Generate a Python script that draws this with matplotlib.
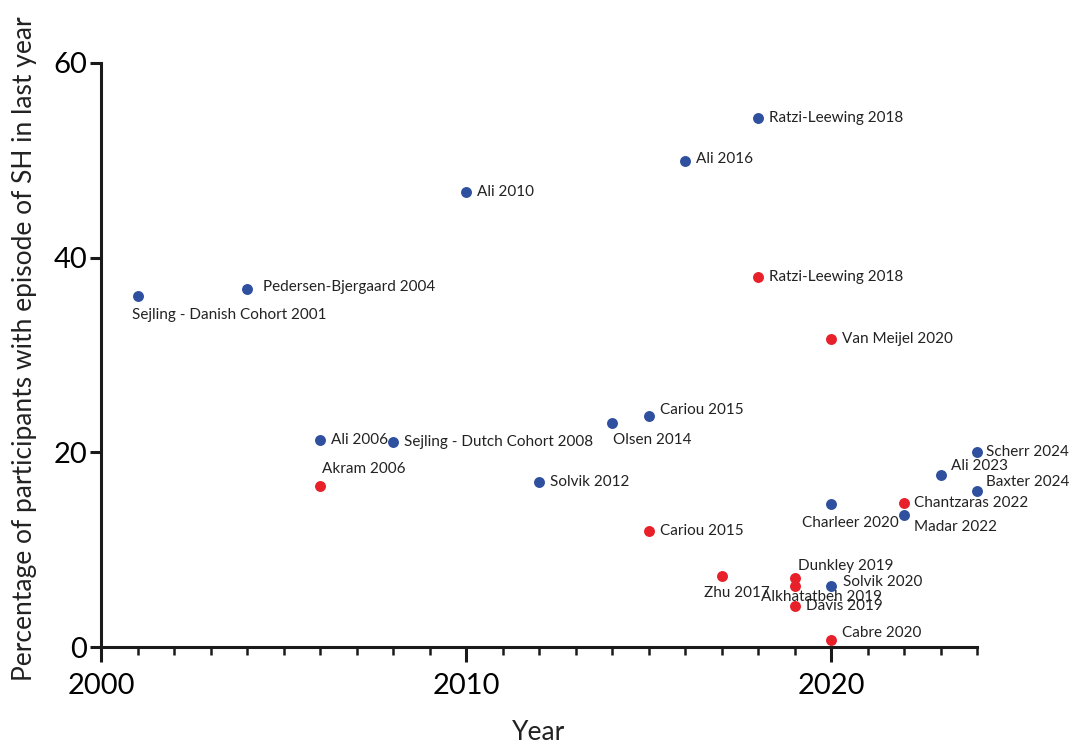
import matplotlib.pyplot as plt
from matplotlib.ticker import MultipleLocator

plt.rcParams['font.family'] = ['Lato', 'DejaVu Sans']

# Studies reporting severe hypoglycaemia (SH) in the last year
blue_names = ['Sejling - Danish Cohort 2001', 'Pedersen-Bjergaard 2004', 'Ali 2006',
              'Sejling - Dutch Cohort 2008', 'Ali 2010', 'Solvik 2012', 'Olsen 2014',
              'Cariou 2015', 'Ali 2016', 'Ratzi-Leewing 2018', 'Charleer 2020',
              'Solvik 2020', 'Madar 2022', 'Ali 2023', 'Scherr 2024', 'Baxter 2024']
blue_years = [2001, 2004, 2006, 2008, 2010, 2012, 2014, 2015, 2016, 2018, 2020,
              2020, 2022, 2023, 2024, 2024]
blue_values = [36.1, 36.8, 21.3, 21.1, 46.7, 17.0, 23.0, 23.7, 49.9, 54.3, 14.7,
               6.3, 13.6, 17.7, 20.0, 16.0]

red_names = ['Akram 2006', 'Cariou 2015', 'Ratzi-Leewing 2018', 'Van Meijel 2020',
             'Zhu 2017', 'Dunkley 2019', 'Alkhatatbeh 2019', 'Davis 2019',
             'Cabre 2020', 'Chantzaras 2022']
red_years = [2006, 2015, 2018, 2020, 2017, 2019, 2019, 2019, 2020, 2022]
red_values = [16.5, 11.9, 38.0, 31.6, 7.3, 7.1, 6.3, 4.2, 0.7, 14.8]

# label offsets in pixels (dx, dy) to keep the crowded labels apart
blue_offsets = [(-6, -19), (16, 2), (11, 0), (11, 0), (11, 0), (11, 0), (1, -17),
                (11, 6), (11, 2), (11, 0), (-29, -19), (12, 4), (10, -12),
                (10, 9), (9, 0), (9, 9)]
red_offsets = [(2, 17), (11, 0), (11, 0), (11, 0), (-18, -17), (3, 12), (-34, -11),
               (11, 0), (11, 7), (10, 0)]

BLUE = '#2f4f9f'
RED = '#e8202a'

fig = plt.figure(figsize=(10.7, 7.45), dpi=100)
ax = fig.add_axes([0.0944, 0.1315, 0.8187, 0.784])

ax.scatter(blue_years, blue_values, s=62, color=BLUE, zorder=3, clip_on=False, linewidths=0)
ax.scatter(red_years, red_values, s=62, color=RED, zorder=3, clip_on=False, linewidths=0)

for names, xs, ys, offs in [(blue_names, blue_years, blue_values, blue_offsets),
                            (red_names, red_years, red_values, red_offsets)]:
    for name, x, y, (dx, dy) in zip(names, xs, ys, offs):
        ax.annotate(name, (x, y), xytext=(dx, dy), textcoords='offset pixels',
                    ha='left', va='center', fontsize=11.0, color='#222222',
                    annotation_clip=False)

ax.set_xlim(2000, 2024)
ax.set_ylim(0, 60)
ax.xaxis.set_major_locator(MultipleLocator(10))
ax.xaxis.set_minor_locator(MultipleLocator(1))
ax.yaxis.set_major_locator(MultipleLocator(20))

for side in ['top', 'right']:
    ax.spines[side].set_visible(False)
for side in ['left', 'bottom']:
    ax.spines[side].set_linewidth(2.2)
    ax.spines[side].set_color('#1a1a1a')

ax.tick_params(axis='x', which='major', length=11, width=2.2, direction='out',
               labelsize=21, pad=8, color='#1a1a1a')
ax.tick_params(axis='x', which='minor', length=6, width=1.8, direction='out',
               color='#1a1a1a')
ax.tick_params(axis='y', which='major', length=8, width=2.2, direction='out',
               labelsize=21, pad=2, color='#1a1a1a')

ax.set_xlabel('Year', fontsize=19, color='#222222', va='center')
ax.xaxis.set_label_coords(0.5, -0.147)
ax.set_ylabel('Percentage of participants with episode of SH in last year',
              fontsize=19, color='#222222', va='center')
ax.yaxis.set_label_coords(-0.087, 0.51)

fig.savefig('out.png', dpi=100)
